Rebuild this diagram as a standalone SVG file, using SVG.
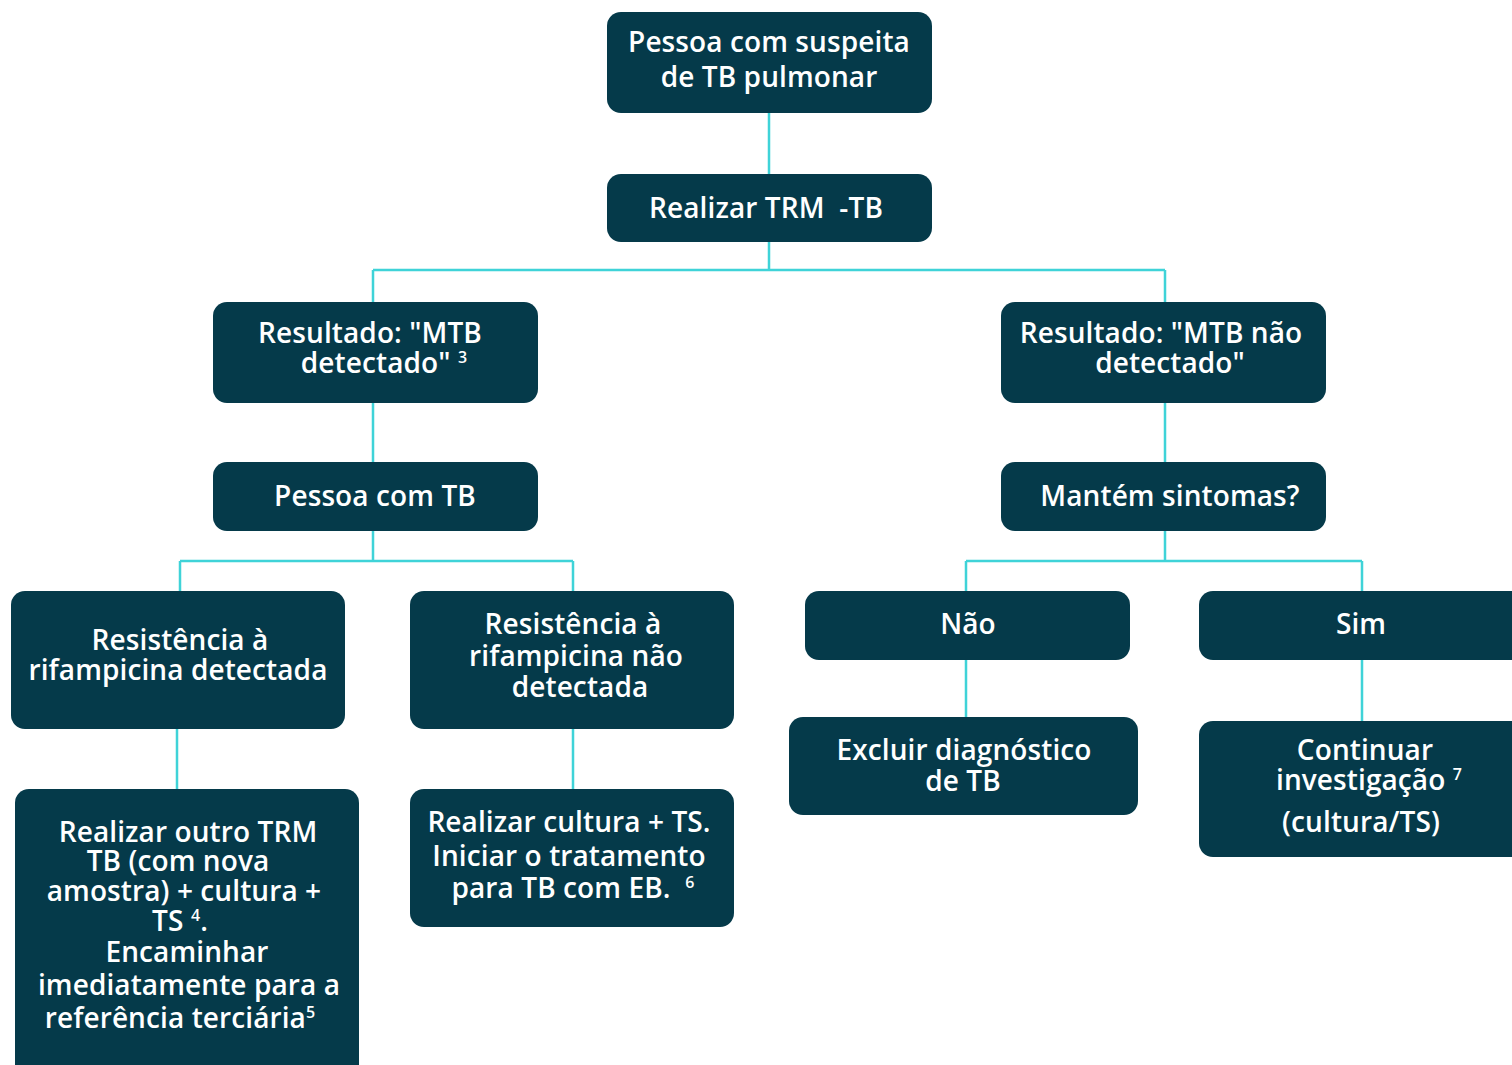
<svg xmlns="http://www.w3.org/2000/svg" width="1512" height="1065" viewBox="0 0 1512 1065">
<style>
.box{fill:#053a4a;}
.t{font-family:"Open Sans","Noto Sans",sans-serif;font-weight:600;font-size:28px;fill:#ffffff;text-anchor:middle;letter-spacing:0.1px;}
.sup{font-size:16px;}
.c{stroke:#3fd3d8;stroke-width:2.5;fill:none;}
</style>
<rect width="1512" height="1065" fill="#ffffff"/>
<g id="connectors">
<path class="c" d="M769 113V174M769 242V270M373 270H1165M373 270V302M1165 270V302"/>
<path class="c" d="M373 403V462M1165 403V462"/>
<path class="c" d="M373 531V561M180 561H573M180 561V591M573 561V591"/>
<path class="c" d="M1165 531V561M966 561H1362M966 561V591M1362 561V591"/>
<path class="c" d="M177 729V789M573 729V789M966 660V717M1362 660V721"/>
</g>
<g id="n1"><rect class="box" x="607" y="12" width="325" height="101" rx="14"/>
<text class="t" x="769" y="52">Pessoa com suspeita</text><text class="t" x="769" y="87">de TB pulmonar</text></g>
<g id="n2"><rect class="box" x="607" y="174" width="325" height="68" rx="14"/>
<text class="t" x="766" y="218" xml:space="preserve">Realizar TRM  -TB</text></g>
<g id="n3"><rect class="box" x="213" y="302" width="325" height="101" rx="14"/>
<text class="t" x="370" y="343">Resultado: "MTB</text><text class="t" x="384" y="373">detectado" <tspan class="sup" dy="-10">3</tspan></text></g>
<g id="n4"><rect class="box" x="1001" y="302" width="325" height="101" rx="14"/>
<text class="t" x="1161" y="343">Resultado: "MTB não</text><text class="t" x="1170" y="373">detectado"</text></g>
<g id="n5"><rect class="box" x="213" y="462" width="325" height="69" rx="14"/>
<text class="t" x="375" y="506">Pessoa com TB</text></g>
<g id="n6"><rect class="box" x="1001" y="462" width="325" height="69" rx="14"/>
<text class="t" x="1170" y="506">Mantém sintomas?</text></g>
<g id="n7"><rect class="box" x="11" y="591" width="334" height="138" rx="14"/>
<text class="t" x="180" y="650">Resistência à</text><text class="t" x="178" y="680">rifampicina detectada</text></g>
<g id="n8"><rect class="box" x="410" y="591" width="324" height="138" rx="14"/>
<text class="t" x="573" y="634">Resistência à</text><text class="t" x="576" y="666">rifampicina não</text><text class="t" x="580" y="697">detectada</text></g>
<g id="n9"><rect class="box" x="805" y="591" width="325" height="69" rx="14"/>
<text class="t" x="968" y="634">Não</text></g>
<g id="n10"><rect class="box" x="1199" y="591" width="340" height="69" rx="14"/>
<text class="t" x="1361" y="634">Sim</text></g>
<g id="n11"><rect class="box" x="15" y="789" width="344" height="300" rx="14"/>
<text class="t" x="188" y="842">Realizar outro TRM</text>
<text class="t" x="178" y="871">TB (com nova</text>
<text class="t" x="184" y="901">amostra) + cultura +</text>
<text class="t" x="180" y="931">TS <tspan class="sup" dy="-10">4</tspan><tspan dy="10">.</tspan></text>
<text class="t" x="187" y="962">Encaminhar</text>
<text class="t" x="189" y="995">imediatamente para a</text>
<text class="t" x="180" y="1028">referência terciária<tspan class="sup" dy="-10">5</tspan></text></g>
<g id="n12"><rect class="box" x="410" y="789" width="324" height="138" rx="14"/>
<text class="t" x="569" y="832">Realizar cultura + TS.</text>
<text class="t" x="569" y="866">Iniciar o tratamento</text>
<text class="t" x="573" y="898" xml:space="preserve">para TB com EB.  <tspan class="sup" dy="-10">6</tspan></text></g>
<g id="n13"><rect class="box" x="789" y="717" width="349" height="98" rx="14"/>
<text class="t" x="964" y="760">Excluir diagnóstico</text><text class="t" x="963" y="791">de TB</text></g>
<g id="n14"><rect class="box" x="1199" y="721" width="340" height="136" rx="14"/>
<text class="t" x="1365" y="760">Continuar</text>
<text class="t" x="1369" y="790">investigação <tspan class="sup" dy="-10">7</tspan></text>
<text class="t" x="1361" y="832">(cultura/TS)</text></g>
</svg>
